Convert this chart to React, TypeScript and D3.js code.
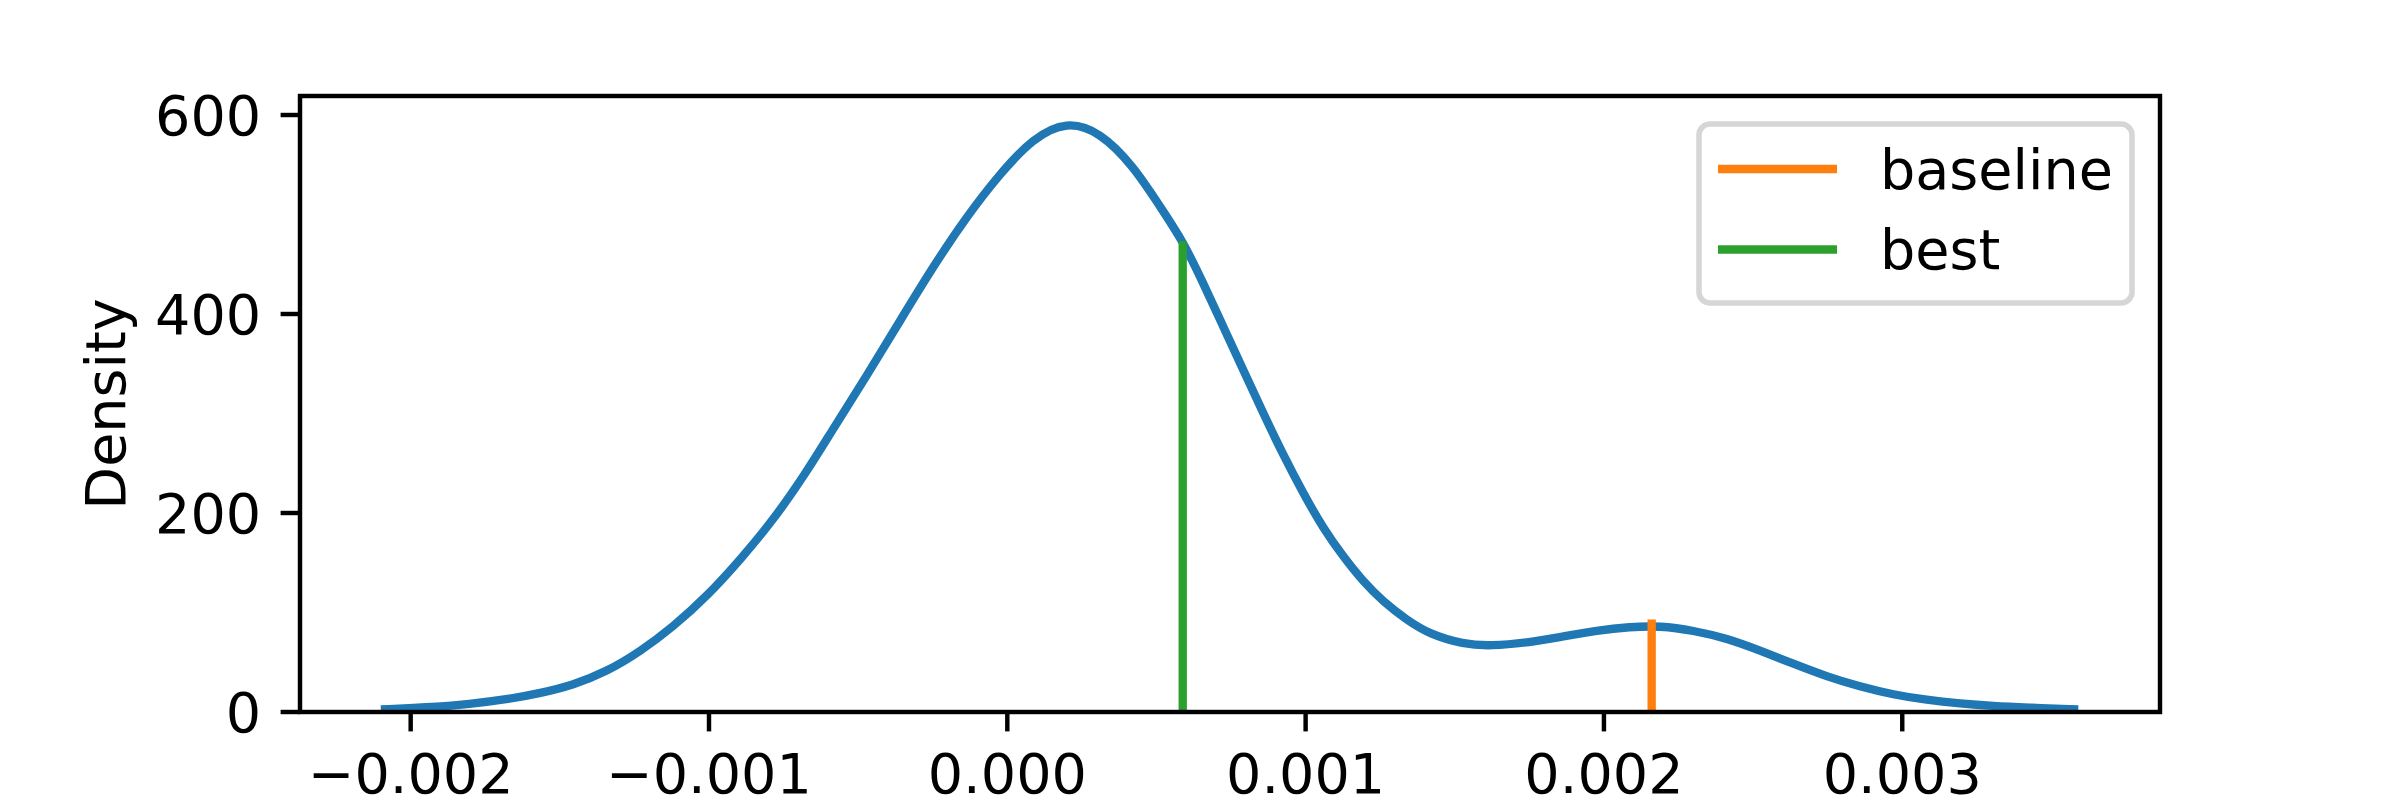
import React from "react";
import * as d3 from "d3";

// Density curve (x in data units, y density)
const densityX = [
  -0.00210, -0.00195, -0.00180, -0.00167, -0.001567, -0.001455, -0.001343, -0.001231, -0.001120,
  -0.001008, -0.000896, -0.000784, -0.000672, -0.000583, -0.000471, -0.000360, -0.000248,
  -0.000136, -0.000025, 0.000087, 0.000199, 0.000311, 0.000422, 0.000512, 0.000590, 0.000657,
  0.000724, 0.000791, 0.000858, 0.000925, 0.000992, 0.001059, 0.001126, 0.001193, 0.001260,
  0.001339, 0.001417, 0.001529, 0.001618, 0.001752, 0.001864, 0.001976, 0.002087, 0.002188,
  0.002300, 0.002412, 0.002523, 0.002635, 0.002747, 0.002858, 0.002970, 0.003082, 0.003194,
  0.003305, 0.003417, 0.003590,
];
const densityY = [
  2.5, 4.5, 8, 13, 18.8, 27.1, 40.5, 60.6, 85.7,
  115.9, 152.8, 193, 241.5, 285, 338, 393, 448,
  498, 541, 577, 594, 583, 549, 508, 472.7, 430.8,
  387.2, 343.7, 300.2, 258.3, 219.8, 184.6, 156.1, 131, 110.9,
  92.5, 78, 68.2, 66.2, 69.9, 76, 82, 85.6, 86.6,
  82, 74, 61.8, 48.5, 35.6, 25.5, 17.4, 12, 8.5,
  6, 4.5, 2.5,
];

// Marker lines
const markerNames = ["baseline", "best"];
const markerX = [0.00216, 0.000588];
const markerTop = [93, 473];
const markerColors = ["#ff7f0e", "#2ca02c"];

const xTicks = [-0.002, -0.001, 0.0, 0.001, 0.002, 0.003];
const yTicks = [0, 200, 400, 600];
const xDomain = [-0.002371, 0.003864];
const yDomain = [0, 619.1];
const yLabel = "Density";

const W = 2400;
const H = 800;
const L = 300, R = 2160, T = 96, B = 712;
const FS = 55.6;
const FONT = "'DejaVu Sans', sans-serif";
const LW = 8.33;
const SW = 4.44;
const TL = 19.4;

const fmtX = (v: number) => {
  const s = Math.abs(v).toFixed(3);
  return v < -1e-12 ? "\u2212" + s : s;
};

export default function App() {
  const x = d3.scaleLinear().domain(xDomain).range([L, R]);
  const y = d3.scaleLinear().domain(yDomain).range([B, T]);
  const pts = densityX.map((v, i) => [v, densityY[i]] as [number, number]);
  const line = d3
    .line<[number, number]>()
    .x((d) => x(d[0]))
    .y((d) => y(d[1]))
    .curve(d3.curveBasis);

  const legL = 1699, legT = 124, legR = 2132, legB = 303;
  const rowY = [169, 249.5];

  return (
    <svg
      width={W}
      height={H}
      style={{ position: "absolute", left: 0, top: 0, background: "#fff" }}
      fontFamily={FONT}
    >
      <rect x={0} y={0} width={W} height={H} fill="#fff" />
      <path d={line(pts) || ""} fill="none" stroke="#1f77b4" strokeWidth={LW} strokeLinejoin="round" />
      {markerX.map((mx, i) => (
        <line
          key={markerNames[i]}
          x1={x(mx)}
          x2={x(mx)}
          y1={y(0)}
          y2={y(markerTop[i])}
          stroke={markerColors[i]}
          strokeWidth={LW}
        />
      ))}
      {/* spines */}
      <rect x={L} y={T} width={R - L} height={B - T} fill="none" stroke="#000" strokeWidth={SW} strokeLinejoin="miter" />
      {/* x ticks */}
      {xTicks.map((t) => (
        <g key={"x" + t}>
          <line x1={x(t)} x2={x(t)} y1={B} y2={B + TL} stroke="#000" strokeWidth={SW} />
          <text x={x(t)} y={B + TL + 19.4 + FS * 0.76} fontSize={FS} textAnchor="middle" fill="#000">
            {fmtX(t)}
          </text>
        </g>
      ))}
      {/* y ticks */}
      {yTicks.map((t) => (
        <g key={"y" + t}>
          <line x1={L - TL} x2={L} y1={y(t)} y2={y(t)} stroke="#000" strokeWidth={SW} />
          <text x={L - TL - 19.4} y={y(t)} dy="0.36em" fontSize={FS} textAnchor="end" fill="#000">
            {String(t)}
          </text>
        </g>
      ))}
      {/* y label */}
      <text
        transform={`translate(125,${(T + B) / 2}) rotate(-90)`}
        fontSize={FS}
        textAnchor="middle"
        fill="#000"
      >
        {yLabel}
      </text>
      {/* legend */}
      <rect
        x={legL}
        y={legT}
        width={legR - legL}
        height={legB - legT}
        rx={11}
        ry={11}
        fill="#fff"
        fillOpacity={0.8}
        stroke="#d6d6d6"
        strokeWidth={5.56}
      />
      {markerNames.map((n, i) => (
        <g key={"leg" + n}>
          <line x1={1718} x2={1837} y1={rowY[i]} y2={rowY[i]} stroke={markerColors[i]} strokeWidth={LW} />
          <text x={1880} y={rowY[i] + 19.5} fontSize={FS} fill="#000">
            {n}
          </text>
        </g>
      ))}
    </svg>
  );
}
